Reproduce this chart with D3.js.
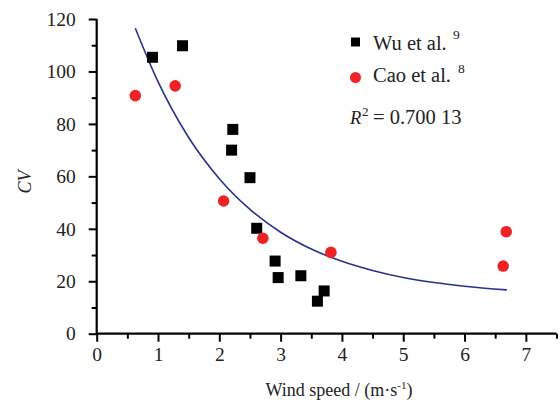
<!DOCTYPE html>
<html><head><meta charset="utf-8">
<script src="https://cdn.jsdelivr.net/npm/d3@7"></script>
<style>
body{margin:0;background:#fff;}
</style></head>
<body><svg id="c" width="560" height="405"></svg>
<script>
// Data
const wuX  = [0.91, 1.40, 2.22, 2.20, 2.50, 2.61, 2.91, 2.96, 3.33, 3.71, 3.60];
const wuY  = [105.4, 109.8, 77.9, 70.0, 59.5, 40.2, 27.7, 21.4, 22.1, 16.3, 12.4];
const caoX = [0.63, 1.28, 2.07, 2.71, 3.82, 6.68, 6.63];
const caoY = [90.8, 94.5, 50.6, 36.4, 31.0, 38.9, 25.8];
// fitted curve
const fitX = [0.63, 1.0, 1.5, 2.0, 2.5, 3.0, 3.5, 4.0, 4.5, 5.0, 5.5, 6.0, 6.69];
const fitY = [116.5, 96.1, 74.8, 59.1, 47.4, 38.7, 32.3, 27.6, 24.1, 21.4, 19.5, 18.1, 16.7];
const xTicks = [0,1,2,3,4,5,6,7];
const yTicks = [0,20,40,60,80,100,120];
const xMinor = [0.5,1.5,2.5,3.5,4.5,5.5,6.5,7.5];
const yMinor = [10,30,50,70,90,110];
const legendNames = ["Wu et al.", "Cao et al."];
const legendRefs = ["9", "8"];
const r2Text = "= 0.700 13";

const FONT = "Liberation Serif";
const TXT = "#222";
const svg = d3.select("#c");
const x = d3.scaleLinear().domain([0,7.5]).range([96.7,556.5]);
const y = d3.scaleLinear().domain([0,120]).range([333.7,19]);

// axes
const gx = svg.append("g").attr("transform",`translate(0,${y(0)})`)
  .call(d3.axisBottom(x).tickValues(xTicks).tickSize(8).tickPadding(5).tickFormat(d3.format("d")));
const gxm = svg.append("g").attr("transform",`translate(0,${y(0)})`)
  .call(d3.axisBottom(x).tickValues(xMinor).tickSize(5).tickFormat(""));
const gy = svg.append("g").attr("transform",`translate(${x(0)},0)`)
  .call(d3.axisLeft(y).tickValues(yTicks).tickSize(8).tickPadding(13).tickFormat(d3.format("d")));
const gym = svg.append("g").attr("transform",`translate(${x(0)},0)`)
  .call(d3.axisLeft(y).tickValues(yMinor).tickSize(5).tickFormat(""));
[gx,gxm,gy,gym].forEach(g=>{
  g.attr("font-family",FONT).attr("font-size",19.5);
  g.select("path.domain").remove();
  g.selectAll("line").attr("stroke","#000").attr("stroke-width",2);
  g.selectAll("text").attr("fill",TXT).attr("font-family",FONT);
});
svg.append("line").attr("x1",x(0)).attr("x2",x(7.5)).attr("y1",y(0)).attr("y2",y(0)).attr("stroke","#000").attr("stroke-width",2.2);
svg.append("line").attr("x1",x(0)).attr("x2",x(0)).attr("y1",y(0)+1.1).attr("y2",y(120)).attr("stroke","#000").attr("stroke-width",2.2);

// fit curve
const fit = fitX.map((v,i)=>[v,fitY[i]]);
svg.append("path").datum(fit)
  .attr("d", d3.line().x(d=>x(d[0])).y(d=>y(d[1])).curve(d3.curveMonotoneX))
  .attr("fill","none").attr("stroke","#27328c").attr("stroke-width",1.6);

// Wu squares
const s = 11;
svg.append("g").selectAll("rect").data(wuX.map((v,i)=>[v,wuY[i]])).join("rect")
  .attr("x",d=>x(d[0])-s/2).attr("y",d=>y(d[1])-s/2).attr("width",s).attr("height",s).attr("fill","#000");
// Cao circles
svg.append("g").selectAll("circle").data(caoX.map((v,i)=>[v,caoY[i]])).join("circle")
  .attr("cx",d=>x(d[0])).attr("cy",d=>y(d[1])).attr("r",5.8).attr("fill","#ee2326");

// legend
const lg = svg.append("g");
lg.append("rect").attr("x",351).attr("y",37.5).attr("width",9).attr("height",9).attr("fill","#000");
lg.append("circle").attr("cx",355.5).attr("cy",77.5).attr("r",5.5).attr("fill","#ee2326");
const lt = [[373,50,453,39],[373,82,458,72.5]];
function T(el){ return el.append("text").attr("font-family",FONT).attr("fill",TXT); }
legendNames.forEach((n,i)=>{
  T(lg).attr("x",lt[i][0]).attr("y",lt[i][1]).attr("font-size",20.5).text(n);
  T(lg).attr("x",lt[i][2]).attr("y",lt[i][3]).attr("font-size",13.5).text(legendRefs[i]);
});
T(lg).attr("x",350).attr("y",124).attr("font-size",18.5).attr("font-style","italic").text("R");
T(lg).attr("x",362).attr("y",116).attr("font-size",13).text("2");
T(lg).attr("x",373).attr("y",124).attr("font-size",20.5).text(r2Text);

// axis titles
const xt = T(svg).attr("x",339).attr("y",396).attr("text-anchor","middle").attr("font-size",18);
xt.append("tspan").text("Wind speed / (m·s");
xt.append("tspan").attr("font-size",11).attr("dy",-7).text("-1");
xt.append("tspan").attr("dy",7).text(")");
T(svg).attr("transform","translate(31,182) rotate(-90)").attr("text-anchor","middle")
  .attr("font-size",18).attr("font-style","italic").text("CV");
</script></body></html>
